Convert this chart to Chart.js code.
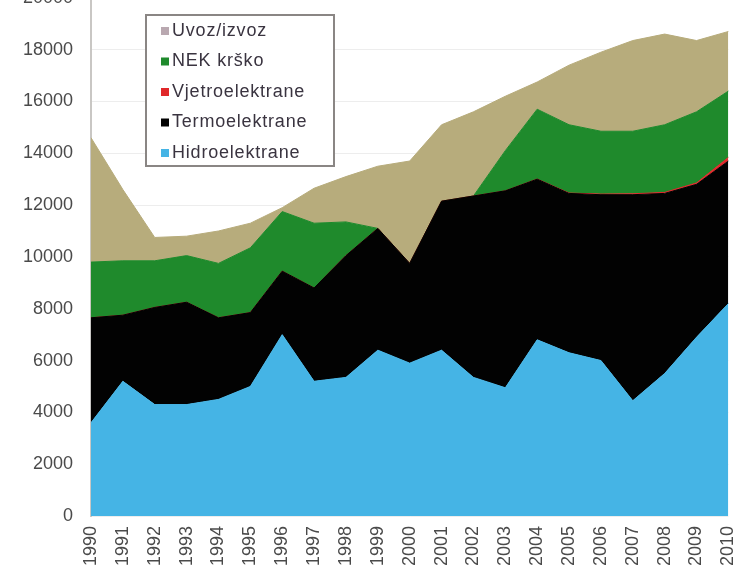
<!DOCTYPE html>
<html>
<head>
<meta charset="utf-8">
<script src="https://cdn.jsdelivr.net/npm/chart.js@4.4.1/dist/chart.umd.min.js"></script>
<style>
  html, body { margin: 0; padding: 0; background: #ffffff; overflow: hidden; width: 742px; height: 582px; }
  #wrap { position: absolute; left: 0; top: -31px; width: 760px; height: 613px; }
</style>
</head>
<body>
<div id="wrap"><canvas id="c" width="760" height="613"></canvas></div>
<script>
// Electricity supply by source, GWh
const years = ['1990','1991','1992','1993','1994','1995','1996','1997','1998','1999',
               '2000','2001','2002','2003','2004','2005','2006','2007','2008','2009','2010'];
const hidroelektrane = [3600, 5200, 4300, 4300, 4500, 5000, 7000, 5200, 5350, 6400,
                        5900, 6400, 5350, 4950, 6800, 6300, 6000, 4450, 5500, 6900, 8200];
const termoelektrane = [4050, 2550, 3750, 3950, 3150, 2850, 2450, 3600, 4700, 4700,
                        3850, 5750, 7000, 7600, 6200, 6150, 6400, 7950, 6950, 5900, 5500];
const vjetroelektrane = [0, 0, 0, 0, 0, 0, 0, 0, 0, 0,
                         0, 0, 0, 0, 5, 15, 25, 35, 40, 55, 140];
const nekKrsko = [2150, 2100, 1800, 1800, 2100, 2500, 2300, 2500, 1300, 0,
                  0, 0, 0, 1550, 2695, 2635, 2425, 2415, 2610, 2745, 2560];
const uvozIzvoz = [4800, 2750, 900, 750, 1250, 950, 150, 1350, 1750, 2400,
                   3950, 2950, 3250, 2100, 1050, 2300, 3050, 3500, 3500, 2750, 2300];
const yTicks = [0, 2000, 4000, 6000, 8000, 10000, 12000, 14000, 16000, 18000, 20000];

const FONT = '"Liberation Sans", Arial, sans-serif';

function area(label, data, color, fill) {
  return {
    label, data,
    backgroundColor: color, borderColor: color,
    borderWidth: 1, pointRadius: 0, tension: 0, fill
  };
}

// Legend drawn as a framed box inside the plot, topmost series first
const boxLegend = {
  id: 'boxLegend',
  afterDraw(chart) {
    const ctx = chart.ctx;
    const x0 = 146, y0 = 46, w = 188, h = 151, rowH = 30.5;
    ctx.save();
    ctx.fillStyle = '#ffffff';
    ctx.fillRect(x0, y0, w, h);
    ctx.strokeStyle = '#8a8684';
    ctx.lineWidth = 2;
    ctx.strokeRect(x0, y0, w, h);
    ctx.font = '18px ' + FONT;
    if ('letterSpacing' in ctx) ctx.letterSpacing = '0.8px';
    ctx.textBaseline = 'middle';
    const sets = chart.data.datasets.slice().reverse();
    sets.forEach((ds, i) => {
      const cy = y0 + 16 + i * rowH;
      ctx.fillStyle = ds.legendColor || ds.backgroundColor;
      ctx.fillRect(x0 + 15, cy - 4, 8, 8);
      ctx.fillStyle = '#3a3440';
      ctx.fillText(ds.label, x0 + 26, cy);
    });
    ctx.restore();
  }
};

const datasets = [
  area('Hidroelektrane', hidroelektrane, '#45b4e5', 'origin'),
  area('Termoelektrane', termoelektrane, '#020202', '-1'),
  area('Vjetroelektrane', vjetroelektrane, '#e0282a', '-1'),
  area('NEK krško', nekKrsko, '#1f8a2c', '-1'),
  area('Uvoz/izvoz', uvozIzvoz, '#b7ac7c', '-1')
];
datasets[4].legendColor = '#b9a8b0';

new Chart(document.getElementById('c'), {
  type: 'line',
  data: { labels: years, datasets },
  options: {
    responsive: false,
    animation: false,
    layout: { padding: { top: 5, right: 13, left: 0, bottom: 0 } },
    plugins: { legend: { display: false }, tooltip: { enabled: false } },
    scales: {
      x: {
        offset: false,
        grid: { display: false, drawTicks: false },
        border: { display: false },
        ticks: {
          autoSkip: false, minRotation: 90, maxRotation: 90, padding: 10,
          color: '#4a4a4a', font: { family: FONT, size: 18 }
        },
        afterFit(s) { s.height = 66; }
      },
      y: {
        stacked: true,
        min: 0, max: 20000,
        grid: { color: 'rgba(0,0,0,0.07)', drawTicks: false },
        border: { display: true, color: '#c9c7c4', width: 2 },
        afterBuildTicks(s) { s.ticks = yTicks.map(v => ({ value: v })); },
        ticks: {
          padding: 18, color: '#4a4a4a',
          font: { family: FONT, size: 18 },
          callback: v => String(v)
        },
        afterFit(s) { s.width = 91; }
      }
    }
  },
  plugins: [boxLegend]
});
</script>
</body>
</html>
